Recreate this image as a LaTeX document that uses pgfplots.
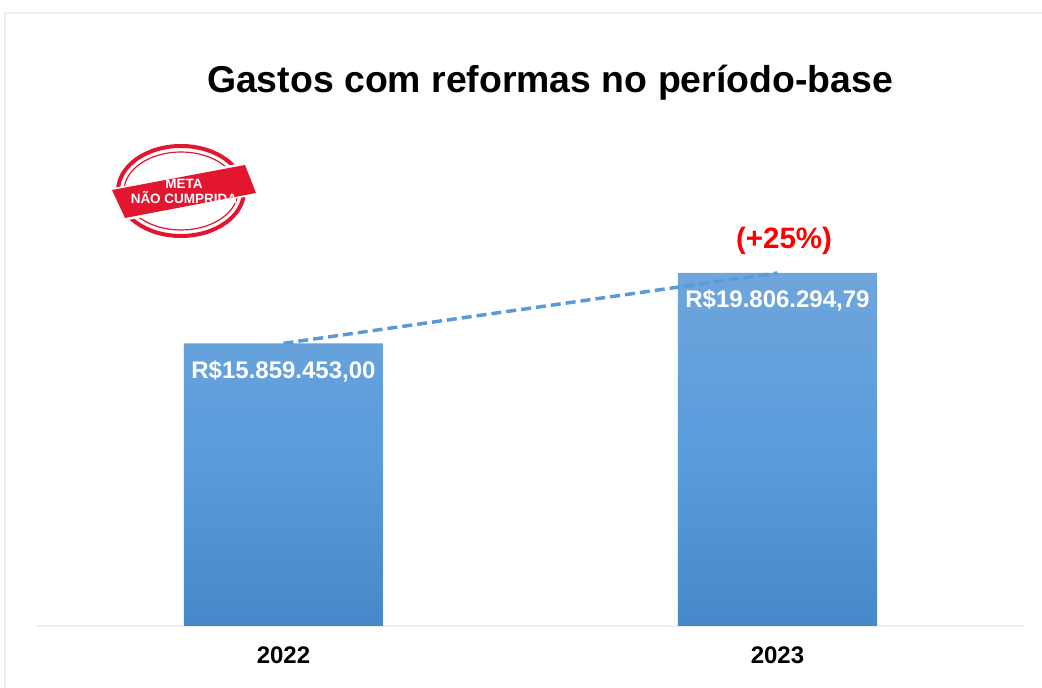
\documentclass[border=0pt]{standalone}
\usepackage{pgfplots}
\pgfplotsset{compat=1.18}
\usepackage{fontspec}
\setmainfont{Liberation Sans}
\definecolor{bartop}{HTML}{6FA5DB}
\definecolor{barmid}{HTML}{5A9CDC}
\definecolor{barbot}{HTML}{4689CA}
\definecolor{lineblue}{HTML}{5B9BD5}
\definecolor{frame}{HTML}{EFEFEF}
\definecolor{stamp}{HTML}{E2162F}
\begin{document}
\begin{tikzpicture}[x=1pt,y=1pt]
\path[use as bounding box] (0,0) rectangle (1042,688);
% faint frame of the slide
\draw[frame,line width=1.2pt] (5,0) -- (5,675) -- (1042,675);
\begin{axis}[
  at={(36pt,62pt)},anchor=south west,
  scale only axis,width=988pt,height=416pt,
  xmin=-0.501,xmax=1.499,ymin=0,ymax=23341000,
  axis y line=none,axis x line=bottom,
  axis line style={-,frame,line width=1.2pt},
  xtick={0,1},xticklabels={2022,2023},
  major tick length=0pt,
  x tick label style={font=\fontsize{24}{28}\selectfont\bfseries,text=black,yshift=-17pt},
  clip=false,
]
\addplot[ybar,bar width=199pt,bar shift=0pt,draw=none,
  shade,shading=axis,top color=bartop,bottom color=barbot,middle color=barmid,
  point meta=explicit symbolic,
  nodes near coords,
  every node near coord/.style={anchor=north,text=white,yshift=-13.5pt,
    font=\fontsize{24}{28}\selectfont\bfseries},
] coordinates {
  (0,15859453.00)[R\$15.859.453,00]
  (1,19806294.79)[R\$19.806.294,79]
};
\addplot[sharp plot,no marks,lineblue,line width=3.5pt,dash pattern=on 10pt off 5pt] coordinates {
  (0,15859453.00)
  (1,19806294.79)
};
\end{axis}
% title and annotation
\node[font=\fontsize{37.4}{42}\selectfont\bfseries,text=black] at (550,605) {Gastos com reformas no período-base};
\node[font=\fontsize{29.5}{34}\selectfont\bfseries,text=red] at (784,447) {(+25\%)};
% stamp
\draw[stamp,line width=4pt] (181,497) ellipse [x radius=63,y radius=45];
\draw[stamp,line width=1.2pt] (181,497) ellipse [x radius=57,y radius=39];
\fill[white] (108,499) -- (247,526) -- (260,494) -- (123,467) -- cycle;
\fill[stamp] (112,498) -- (245,523) -- (256,495) -- (125,470) -- cycle;
\begin{scope}[shift={(184,496.5)},rotate=10.6]
\node[white,font=\fontsize{13.5}{14.5}\selectfont\bfseries,align=center] at (0,0) {META\\NÃO CUMPRIDA};
\end{scope}
\end{tikzpicture}
\end{document}
